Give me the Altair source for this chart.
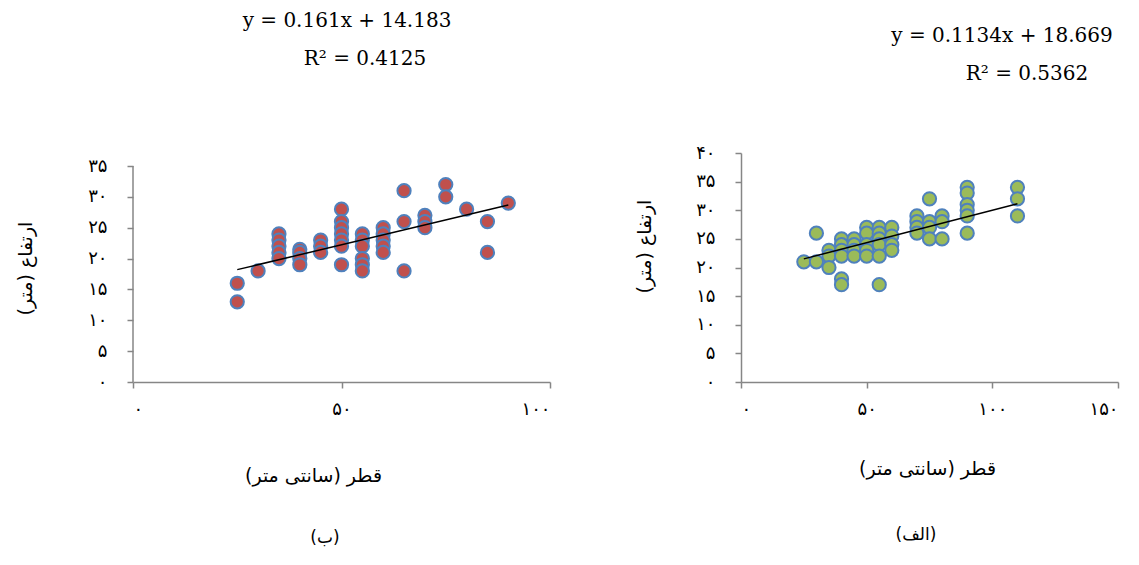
import altair as alt
import pandas as pd

# ---------------- data ----------------
# panel (ب) - left
left_x = [25, 25, 30, 35, 35, 35, 35, 35, 40, 40, 40, 40, 45, 45, 45,
          50, 50, 50, 50, 50, 50, 50, 55, 55, 55, 55, 55, 55, 60, 60, 60, 60, 60,
          65, 65, 65, 70, 70, 70, 75, 75, 80, 85, 85, 90]
left_y = [16, 13, 18, 24, 23, 22, 21, 20, 21.5, 21, 20, 19, 23, 22, 21,
          28, 26, 25, 24, 23, 22, 19, 24, 23, 22, 20, 19, 18, 25, 24, 23, 22, 21,
          31, 26, 18, 27, 26, 25, 32, 30, 28, 26, 21, 29]

# panel (الف) - right
right_x = [25, 30, 30, 35, 35, 35, 40, 40, 40, 40, 40, 40, 45, 45, 45, 45,
           50, 50, 50, 50, 50, 55, 55, 55, 55, 55, 55, 60, 60, 60, 60,
           70, 70, 70, 70, 75, 75, 75, 75, 80, 80, 80,
           90, 90, 90, 90, 90, 90, 110, 110, 110]
right_y = [21, 26, 21, 23, 22, 20, 25, 24, 23, 22, 18, 17, 25, 24, 23, 22,
           27, 26, 24, 23, 22, 27, 26, 25, 24, 22, 17, 27, 25.5, 24, 23,
           29, 28, 27, 26, 32, 28, 27, 25, 29, 28, 25,
           34, 33, 31, 30, 29, 26, 34, 32, 29]

# trend lines (slope, intercept) and their x extent
left_fit = [0.161, 14.183]
left_fit_range = [25, 90]
right_fit = [0.1134, 18.669]
right_fit_range = [25, 110]

left_eq = ["y = 0.161x + 14.183", "R² = 0.4125"]
right_eq = ["y = 0.1134x + 18.669", "R² = 0.5362"]

left_xticks = [0, 50, 100]
right_xticks = [0, 50, 100, 150]
left_yticks = [0, 5, 10, 15, 20, 25, 30, 35]
right_yticks = [0, 5, 10, 15, 20, 25, 30, 35, 40]

x_title = "قطر (سانتی متر)"
y_title = "ارتفاع (متر)"
left_label = "(ب)"
right_label = "(الف)"

# ---------------- helpers ----------------
FA = "۰۱۲۳۴۵۶۷۸۹"


def fa(n):
    return "".join(FA[int(c)] for c in str(n))


def label_expr(vals):
    parts = [f"datum.value == {v} ? '{fa(v)}'" for v in vals]
    return " : ".join(parts) + " : ''"


AXIS_GRAY = "#868686"
FA_FONT = "DejaVu Sans"
EQ_FONT = "DejaVu Serif"
STROKE = "#4F81BD"


def panel(xs, ys, fill, xmax, ymax, ytop, xticks, yticks, fit, fit_range,
          eqs, eq_pos, xtitle_pos, ytitle_pos, sub_label, sub_pos, W, H,
          show_domain):
    df = pd.DataFrame({"x": xs, "y": ys})
    fdf = pd.DataFrame({"x": fit_range,
                        "y": [fit[0] * v + fit[1] for v in fit_range]})

    xenc = alt.X("x:Q",
                 scale=alt.Scale(domain=[0, xmax], nice=False, zero=True),
                 axis=alt.Axis(values=xticks, labelExpr=label_expr(xticks),
                               grid=False, title=x_title,
                               titleX=xtitle_pos[0], titleY=xtitle_pos[1],
                               titleAlign="center", titleBaseline="middle",
                               titleFont=FA_FONT, titleFontSize=19,
                               titleFontWeight="normal", titleColor="black",
                               labelFont=FA_FONT, labelFontSize=18,
                               labelColor="black", labelPadding=12,
                               labelOverlap=False,
                               domainColor=AXIS_GRAY, tickColor=AXIS_GRAY,
                               tickSize=6, domainWidth=1.5, tickWidth=1.5))
    yenc = alt.Y("y:Q",
                 scale=alt.Scale(domain=[0, ymax], nice=False, zero=True),
                 axis=alt.Axis(values=yticks, labelExpr=label_expr(yticks),
                               grid=False, title=y_title,
                               titleX=ytitle_pos[0], titleY=ytitle_pos[1],
                               titleAlign="center", titleBaseline="middle",
                               titleAngle=270,
                               titleFont=FA_FONT, titleFontSize=19,
                               titleFontWeight="normal", titleColor="black",
                               labelFont=FA_FONT, labelFontSize=18,
                               labelColor="black", labelPadding=20,
                               labelOverlap=False,
                               domain=show_domain,
                               domainColor=AXIS_GRAY, tickColor=AXIS_GRAY,
                               tickSize=6, domainWidth=1.5, tickWidth=1.5))

    pts = alt.Chart(df).mark_circle(size=175, fill=fill, stroke=STROKE,
                                    strokeWidth=2, fillOpacity=1,
                                    strokeOpacity=1).encode(x=xenc, y=yenc)
    line = alt.Chart(fdf).mark_line(color="black", strokeWidth=1.5).encode(
        x=xenc, y=yenc)
    layers = [pts, line]
    if not show_domain:
        ydom = alt.Chart(pd.DataFrame({"y": [0], "y2": [ytop]})).mark_rule(
            color=AXIS_GRAY, strokeWidth=1.5).encode(
            x=alt.value(0), y=yenc, y2="y2:Q")
        layers.append(ydom)
    for txt, (px, py) in zip(eqs, eq_pos):
        layers.append(
            alt.Chart(pd.DataFrame({"t": [txt]})).mark_text(
                font=EQ_FONT, fontSize=20, align="center",
                baseline="alphabetic", color="black").encode(
                text="t:N", x=alt.value(px), y=alt.value(py)))
    layers.append(
        alt.Chart(pd.DataFrame({"t": [sub_label]})).mark_text(
            font=FA_FONT, fontSize=17, align="center", baseline="middle",
            color="black").encode(
            text="t:N", x=alt.value(sub_pos[0]), y=alt.value(sub_pos[1])))
    return alt.layer(*layers).properties(width=W, height=H)


H = 229
left = panel(left_x, left_y, "#C0504D", 100, 35 * 229 / 216, 35,
             left_xticks, left_yticks, left_fit, left_fit_range,
             left_eq, [(214, -126), (232, -88)],
             (180, 93), (-108, 115), left_label, (192, 385), 417, H, False)
right = panel(right_x, right_y, "#9BBB59", 150, 40, 40,
              right_xticks, right_yticks, right_fit, right_fit_range,
              right_eq, [(261, -111), (286, -73)],
              (186, 86), (-97, 93), right_label, (175, 382), 377, H, True)

chart = alt.hconcat(left, right, spacing=191, bounds="flush").configure_view(
    stroke=None).properties(padding={"left": 8, "top": 3, "right": 5, "bottom": 5},
                            background="white")

chart.save("out.html", embed_options={"renderer": "svg", "actions": False})
